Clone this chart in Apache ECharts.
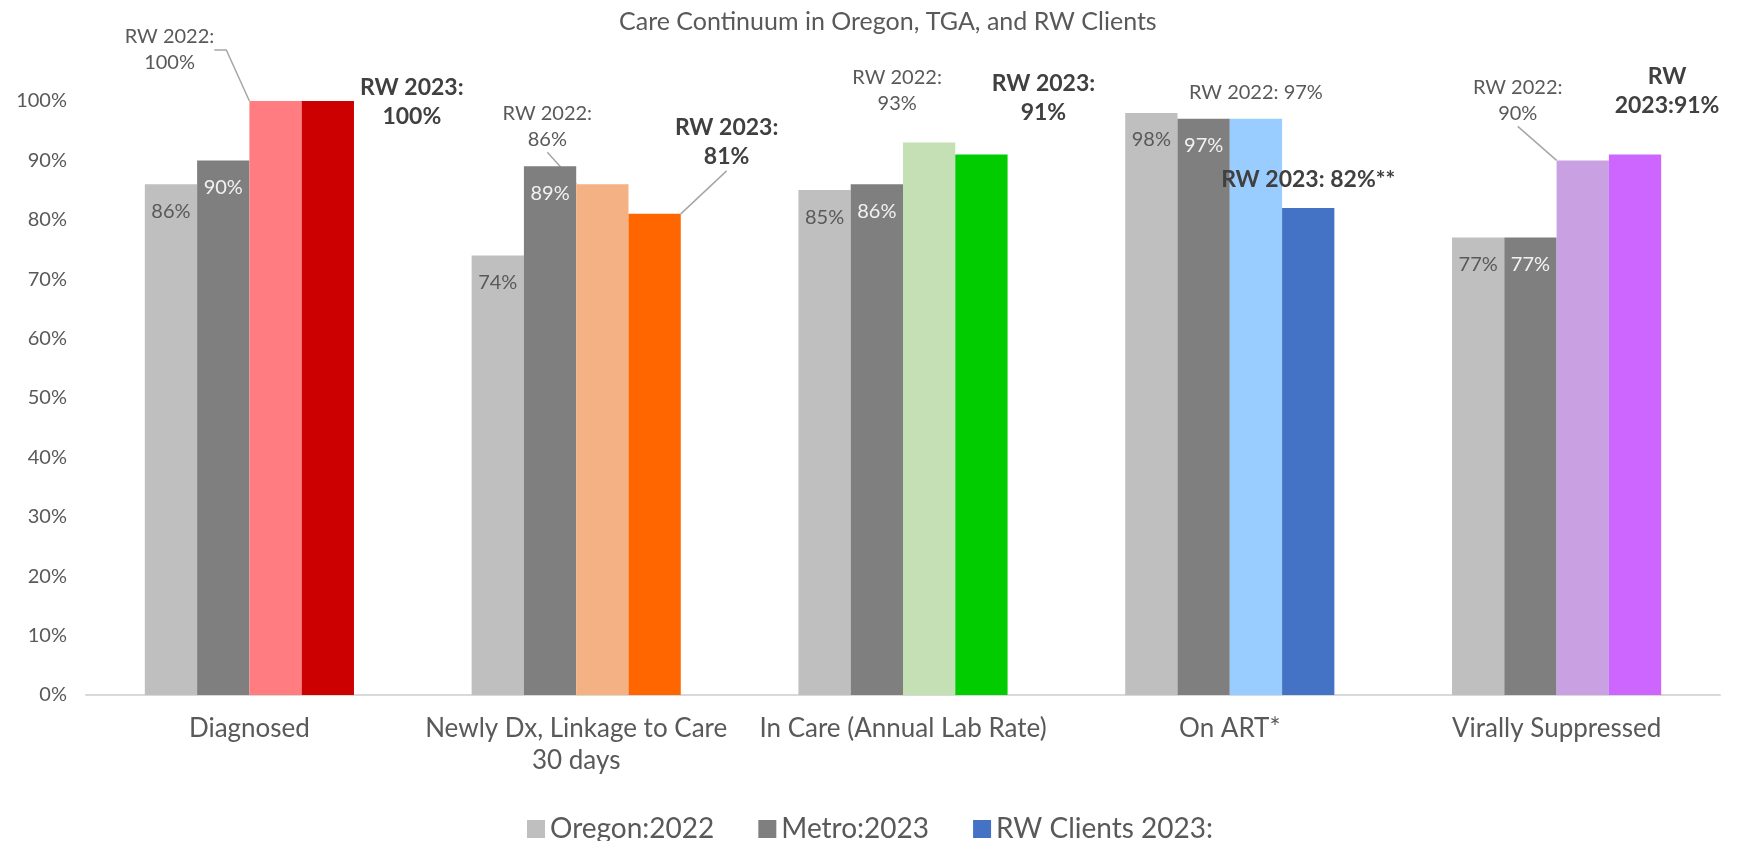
<!DOCTYPE html>
<html>
<head>
<meta charset="utf-8">
<title>Care Continuum</title>
<script src="https://cdn.jsdelivr.net/npm/echarts@6/dist/echarts.min.js"></script>
<style>
  html, body { margin: 0; padding: 0; background: #fff; }
  #chart { width: 1743px; height: 841px; }
</style>
</head>
<body>
<div id="chart"></div>
<script>
// data (percent)
const categories = ['Diagnosed', 'Newly Dx, Linkage to Care\n30 days', 'In Care (Annual Lab Rate)', 'On ART*', 'Virally Suppressed'];
const oregon2022 = [86, 74, 85, 98, 77];
const metro2023 = [90, 89, 86, 97, 77];
const rw2022 = [100, 86, 93, 97, 90];
const rw2023 = [100, 81, 91, 82, 91];

// label text around the RW values
const rw22Prefix = ['RW 2022:\n', 'RW 2022:\n', 'RW 2022:\n', 'RW 2022: ', 'RW 2022:\n'];
const rw23Prefix = ['RW 2023:\n', 'RW 2023:\n', 'RW 2023:\n', 'RW 2023: ', 'RW\n2023:'];
const rw23Suffix = ['%', '%', '%', '%**', '%'];

// colours per category
const rw22Colors = ['#FF7C80', '#F4B183', '#C5E0B4', '#99CCFF', '#C9A0E2'];
const rw23Colors = ['#CC0000', '#FF6600', '#00CC00', '#4472C4', '#CC66FF'];

// label shifts from the bar top, and which ones get a leader line
const rw22Shift = [[-106, -25], [-55, -32], [-32, -26], [0, -13], [-65, -34]];
const rw23Shift = [[84, 30], [72, -43], [62, -27], [0, -14], [32, -34]];
const rw22Line = [true, true, false, false, true];
const rw23Line = [false, true, false, false, false];

const chart = echarts.init(document.getElementById('chart'));
const font = 'Lato, "Liberation Sans", sans-serif';
const grey = '#595959';

const lineStyle = { color: '#A6A6A6', width: 1.5 };

chart.setOption({
  textStyle: { fontFamily: font },
  title: {
    text: 'Care Continuum in Oregon, TGA, and RW Clients',
    left: 614,
    top: 4,
    textStyle: { fontSize: 25, fontWeight: 'normal', color: grey, fontFamily: font }
  },
  legend: {
    data: ['Oregon:2022', 'Metro:2023', 'RW Clients 2023:'],
    left: 522,
    top: 810,
    itemWidth: 18,
    itemHeight: 18,
    itemGap: 44,
    icon: 'rect',
    textStyle: { fontSize: 28, color: grey, fontFamily: font }
  },
  grid: { left: 86, right: 23, top: 101, bottom: 146 },
  xAxis: {
    type: 'category',
    data: categories,
    axisLine: { lineStyle: { color: '#D9D9D9', width: 2 } },
    axisTick: { show: false },
    axisLabel: { fontSize: 26, color: grey, margin: 18, lineHeight: 32, interval: 0 }
  },
  yAxis: {
    type: 'value',
    min: 0,
    max: 100,
    interval: 10,
    axisLine: { show: false },
    axisTick: { show: false },
    splitLine: { show: false },
    axisLabel: { fontSize: 20, color: grey, margin: 19, formatter: '{value}%' }
  },
  series: [
    {
      name: 'Oregon:2022',
      type: 'bar',
      data: oregon2022,
      barGap: '0%',
      barCategoryGap: '36%',
      itemStyle: { color: '#BFBFBF' },
      label: { show: true, position: 'insideTop', distance: 17, formatter: '{c}%', fontSize: 20, color: grey }
    },
    {
      name: 'Metro:2023',
      type: 'bar',
      data: metro2023,
      itemStyle: { color: '#7F7F7F' },
      label: { show: true, position: 'insideTop', distance: 17, formatter: '{c}%', fontSize: 20, color: '#F2F2F2' }
    },
    {
      name: 'RW Clients 2022',
      type: 'bar',
      data: rw2022.map((v, i) => ({
        value: v,
        itemStyle: { color: rw22Colors[i] },
        labelLine: { show: rw22Line[i], length2: i === 0 ? 12 : 0 }
      })),
      itemStyle: { color: '#99CCFF' },
      label: {
        show: true, position: 'top', distance: 0, fontSize: 20, lineHeight: 26, color: grey,
        formatter: p => rw22Prefix[p.dataIndex] + p.value + '%'
      },
      labelLayout: p => ({ dx: rw22Shift[p.dataIndex][0], dy: rw22Shift[p.dataIndex][1] }),
      labelLine: { lineStyle: lineStyle }
    },
    {
      name: 'RW Clients 2023:',
      type: 'bar',
      data: rw2023.map((v, i) => ({
        value: v,
        itemStyle: { color: rw23Colors[i] },
        labelLine: { show: rw23Line[i] }
      })),
      itemStyle: { color: '#4472C4' },
      label: {
        show: true, position: 'top', distance: 0, fontSize: 23, lineHeight: 29, fontWeight: 'bold', color: '#404040',
        formatter: p => rw23Prefix[p.dataIndex] + p.value + rw23Suffix[p.dataIndex]
      },
      labelLayout: p => ({ dx: rw23Shift[p.dataIndex][0], dy: rw23Shift[p.dataIndex][1] }),
      labelLine: { lineStyle: lineStyle }
    }
  ]
});
</script>
</body>
</html>
